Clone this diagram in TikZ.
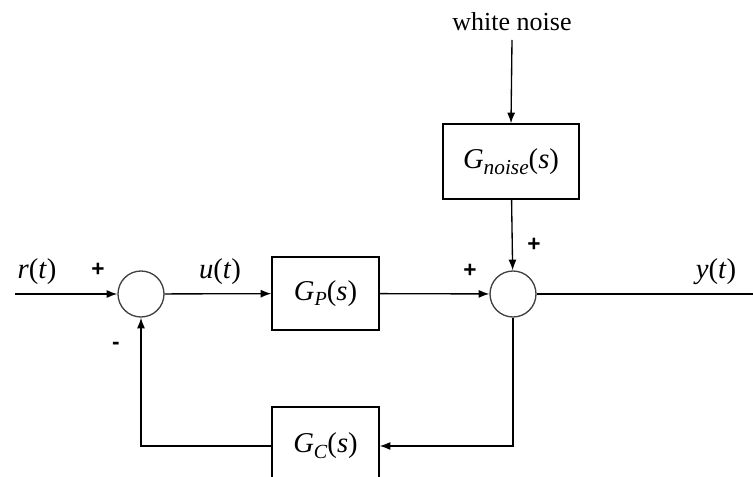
\documentclass[tikz,border=0pt]{standalone}
\usepackage{fontspec}
\setmainfont{Liberation Serif}
\newfontfamily\signfont{Liberation Sans}
\usetikzlibrary{arrows.meta}
\begin{document}
\begin{tikzpicture}[x=0.75pt,y=-0.75pt,
  line width=1pt,
  >={Latex[length=8pt,width=6pt]},
  blk/.style={draw, rectangle, minimum width=80.25pt, minimum height=54.75pt, inner sep=0pt, font=\fontsize{21.5}{25}\selectfont},
  sumc/.style={draw=black!75, circle, minimum size=34.5pt, inner sep=0pt},
  lbl/.style={font=\fontsize{21.5}{25}\selectfont, inner sep=0pt},
  sgn/.style={font=\signfont\bfseries\fontsize{17}{19}\selectfont, inner sep=0pt}]
\useasboundingbox (0,0) rectangle (753,477);
\clip (0,0) rectangle (753,477);
\node[sumc] (sumL) at (141,294) {};
\node[sumc] (sumR) at (513,294) {};
\node[blk] (Gp) at (325.5,293.5) {\textit{G}\raisebox{-0.4ex}{\fontsize{15}{17}\selectfont\textit{P}}(\textit{s})};
\node[blk, minimum width=102pt, minimum height=56.25pt] (Gn) at (511,161.5) {\textit{G}\raisebox{-0.45ex}{\fontsize{16}{18}\selectfont\textit{noise}}(\textit{s})};
\node[blk, minimum height=58.5pt] (Gc) at (325.5,446) {\textit{G}\raisebox{-0.45ex}{\fontsize{15}{17}\selectfont\textit{C}}(\textit{s})};
\node[lbl, font=\fontsize{19.5}{23}\selectfont] (wn) at (512,22) {white noise};
\coordinate (rin) at (15,294);
\coordinate (yout) at (753,294);
\coordinate (fbR) at (513,446);
\coordinate (fbL) at (141,446);
\node[lbl] (rl) at (37,272) {\textit{r}(\textit{t})};
\node[lbl] (ul) at (220,272) {\textit{u}(\textit{t})};
\node[lbl] (yl) at (716,272) {\textit{y}(\textit{t})};
\node[sgn] (p1) at (98,270) {+};
\node[sgn] (p2) at (470,271) {+};
\node[sgn] (p3) at (534,245) {+};
\node[sgn] (m1) at (116,346) {-};
\draw[->] (rin) -- (sumL);
\draw[->] (sumL) -- (Gp);
\draw[->] (Gp) -- (sumR);
\draw (sumR) -- (yout);
\draw[->] (wn.south |- 0,40) -- (Gn.north);
\draw[->] (Gn) -- (sumR);
\draw[->] (sumR) -- (fbR) -- (Gc.east);
\draw[->] (Gc.west) -- (fbL) -- (sumL);
\end{tikzpicture}
\end{document}
